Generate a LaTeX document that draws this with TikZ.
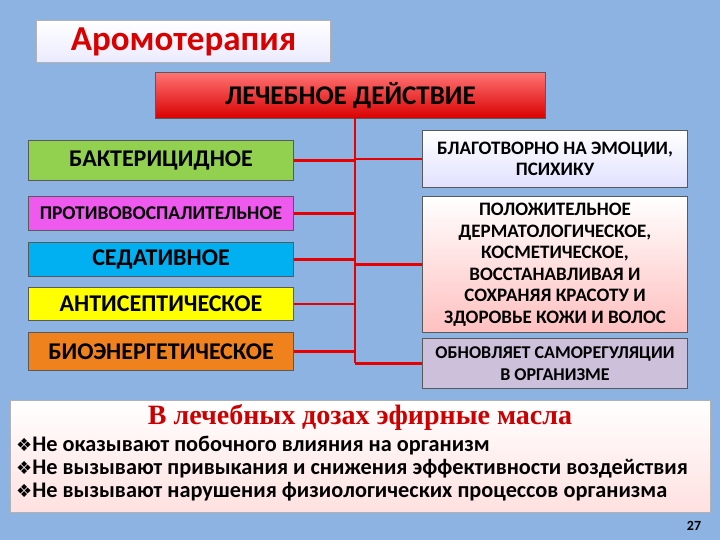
\documentclass[tikz,border=0pt]{standalone}
\usepackage{fontspec}
\setmainfont{Carlito}
\newfontfamily\serifru{Liberation Serif}
\newfontfamily\symf{DejaVu Sans}
\begin{document}
\begin{tikzpicture}[x=1pt,y=-1pt,
 box/.style={draw=gray!70!black,line width=1pt,inner sep=0pt,align=center},
 conn/.style={draw={rgb,255:red,230;green,0;blue,0},line width=2.4pt}]
\definecolor{bg}{HTML}{8DB3E2}
\fill[bg] (0,0) rectangle (720,540);
\useasboundingbox (0,0) rectangle (720,540);
\node[box,top color=white,bottom color=blue!8,draw=gray!60,minimum width=294,minimum height=42,anchor=north west,text=red!85!black,font=\bfseries\fontsize{35}{38}\selectfont] (title) at (36,20) {Аромотерапия};
\node[box,top color=red!55,bottom color=red!85!black,minimum width=390,minimum height=46,anchor=north west,font=\bfseries\fontsize{27}{30}\selectfont] (main) at (155,72) {ЛЕЧЕБНОЕ ДЕЙСТВИЕ};
\tikzset{lb/.style={box,minimum width=265,anchor=north west,font=\bfseries\fontsize{24}{26}\selectfont}}
\node[lb,minimum height=40,fill={rgb,255:red,146;green,208;blue,80}] (b1) at (28,140) {БАКТЕРИЦИДНОЕ};
\node[lb,fill={rgb,255:red,238;green,90;blue,238},minimum height=34,font=\bfseries\fontsize{19.5}{21}\selectfont] (b2) at (28,196) {ПРОТИВОВОСПАЛИТЕЛЬНОЕ};
\node[lb,fill={rgb,255:red,0;green,176;blue,240},minimum height=34] (b3) at (28,242) {СЕДАТИВНОЕ};
\node[lb,fill={rgb,255:red,255;green,255;blue,0},minimum height=33] (b4) at (28,287) {АНТИСЕПТИЧЕСКОЕ};
\node[lb,fill={rgb,255:red,240;green,130;blue,30},minimum height=38] (b5) at (28,332) {БИОЭНЕРГЕТИЧЕСКОЕ};
\tikzset{rb/.style={box,minimum width=265,anchor=north west,font=\bfseries\fontsize{19}{21.5}\selectfont}}
\node[rb,top color=white,bottom color=blue!12,minimum height=57] (r1) at (422,130) {БЛАГОТВОРНО НА ЭМОЦИИ,\\ПСИХИКУ};
\node[rb,top color=white,bottom color=red!25,minimum height=136] (r2) at (422,196) {ПОЛОЖИТЕЛЬНОЕ\\ДЕРМАТОЛОГИЧЕСКОЕ,\\КОСМЕТИЧЕСКОЕ,\\ВОССТАНАВЛИВАЯ И\\СОХРАНЯЯ КРАСОТУ И\\ЗДОРОВЬЕ КОЖИ И ВОЛОС};
\node[rb,fill={rgb,255:red,204;green,192;blue,218},minimum height=50,font=\bfseries\fontsize{18}{21.5}\selectfont] (r3) at (422,338) {ОБНОВЛЯЕТ САМОРЕГУЛЯЦИИ\\В ОРГАНИЗМЕ};
\coordinate (top) at (355,118);
\coordinate (bot) at (355,363);
\draw[conn] (top) -- (bot);
\foreach \b in {b1,b2,b3,b4,b5} \draw[conn] (\b.east) -- (\b.east -| top);
\foreach \b in {r1,r2,r3} \draw[conn] (\b.west -| top) -- (\b.west);
\node[draw=gray!60,line width=1pt,top color=white,bottom color=red!12,minimum width=700,minimum height=112,anchor=north west,inner sep=0pt] (bottom) at (10,400) {};
\node[text=red!80!black,font=\serifru\bfseries\fontsize{28}{30}\selectfont] (bt) at (360,417) {В лечебных дозах эфирные масла};
\tikzset{bl/.style={anchor=west,font=\bfseries\fontsize{22.3}{24}\selectfont,inner sep=0pt}}
\node[bl] (l1) at (16,446) {{\symf\fontsize{18}{20}\selectfont ❖}Не оказывают побочного влияния на организм};
\node[bl] (l2) at (16,469) {{\symf\fontsize{18}{20}\selectfont ❖}Не вызывают привыкания и снижения эффективности воздействия};
\node[bl] (l3) at (16,492) {{\symf\fontsize{18}{20}\selectfont ❖}Не вызывают нарушения физиологических процессов организма};
\node[font=\bfseries\fontsize{14}{16}\selectfont] (pg) at (694,526) {27};
\end{tikzpicture}
\end{document}
